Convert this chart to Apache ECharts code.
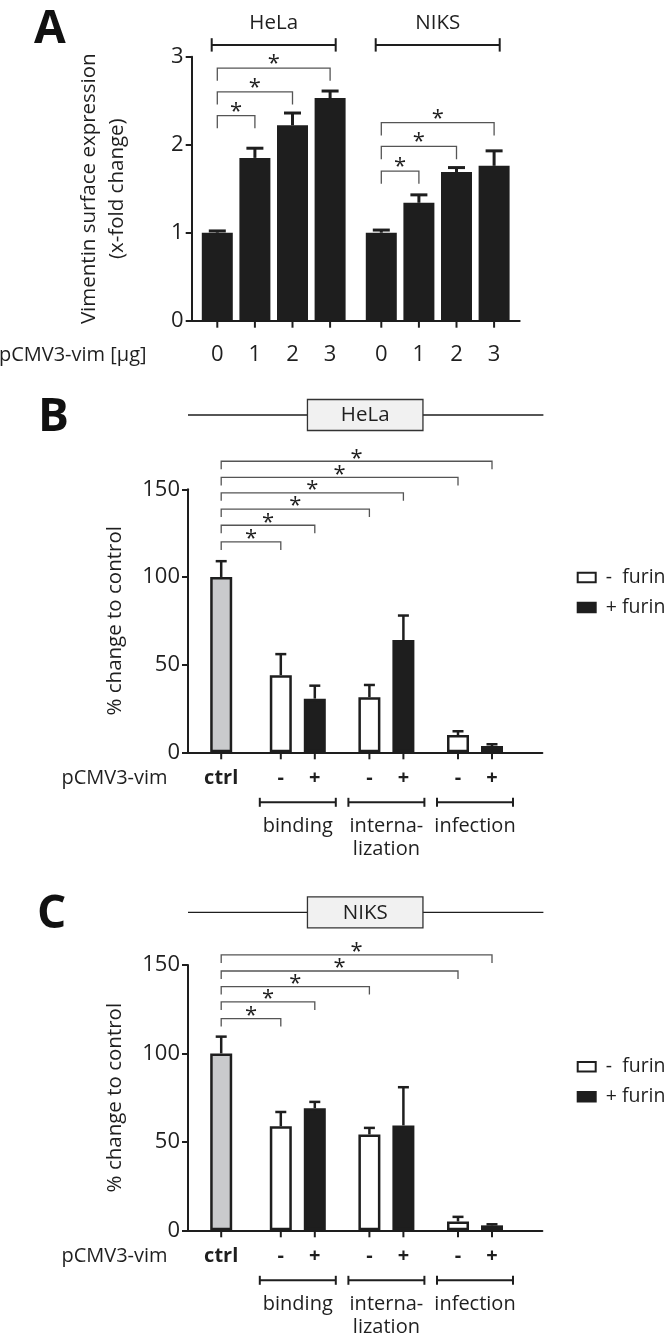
<!DOCTYPE html>
<html>
<head>
<meta charset="utf-8">
<title>Vimentin surface expression and HPV16 entry</title>
<script src="https://cdn.jsdelivr.net/npm/echarts@6/dist/echarts.min.js"></script>
<style>
  html, body { margin: 0; padding: 0; background: #ffffff; }
  #chart { width: 666px; height: 1339px; }
</style>
</head>
<body>
<div id="chart"></div>
<script>
// ---- panel A: vimentin surface expression (x-fold change)
const cellLines = ['HeLa', 'NIKS'];
const doseLabels = ['0', '1', '2', '3'];
const helaFold = [1.00, 1.85, 2.22, 2.53];
const helaFoldErr = [0.02, 0.11, 0.14, 0.08];
const niksFold = [1.00, 1.34, 1.69, 1.76];
const niksFoldErr = [0.03, 0.09, 0.05, 0.17];
// [cell line, dose, dose, bracket height]
const sigA = [
  [0, 0, 1, 2.33], [0, 0, 2, 2.60], [0, 0, 3, 2.87],
  [1, 0, 1, 1.70], [1, 0, 2, 1.98], [1, 0, 3, 2.25]
];

// ---- panels B (HeLa) and C (NIKS): % change to control
const ctrlLabel = 'ctrl';
const assays = ['binding', 'interna-\nlization', 'infection'];
const furinNames = ['-  furin', '+ furin'];
const signs = ['-', '+'];
const helaCtrl = [100], helaCtrlErr = [9];
const helaMinus = [44.0, 31.4, 9.8];
const helaMinusErr = [12.0, 7.0, 2.2];
const helaPlus = [30.6, 64.0, 3.6];
const helaPlusErr = [7.4, 14.0, 1.0];
const niksCtrl = [100], niksCtrlErr = [9.5];
const niksMinus = [58.8, 54.2, 5.0];
const niksMinusErr = [8.1, 3.7, 2.6];
const niksPlus = [69.0, 59.3, 2.8];
const niksPlusErr = [3.6, 21.6, 0.6];
// ctrl vs [assay, furin], bracket height
const sigB = [[0, 0, 120], [0, 1, 129.5], [1, 0, 138.7], [1, 1, 148], [2, 0, 156.8], [2, 1, 166]];
const sigC = [[0, 0, 119.7], [0, 1, 129.1], [1, 0, 137.8], [2, 0, 146.6], [2, 1, 155.7]];

const FONT = "'Open Sans', 'DejaVu Sans', sans-serif";
const INK = '#1e1e1e';
const TXT = '#1f1f1f';
const BRK = '#555555';

// layout
const gridA = { left: 191.7, top: 56.7, width: 328, height: 264 };
const BAR_A = 31, STEP_A = 37.6;
const BAR_BC = 22, STEP_BC = 34;
function layoutBC(top, height) {
  return { left: 188, top: top, width: 354.4, height: height, ctrlW: 66.4, mainL: 253.5, mainW: 265.8 };
}
const LB = layoutBC(489.3, 263);
const LC = layoutBC(965, 265.3);

const grid = [], xAxis = [], yAxis = [], series = [], graphic = [], legend = [];
const axisLineStyle = { color: INK, width: 2 };

function seg(x1, y1, x2, y2, w, color) {
  return { type: 'line', shape: { x1: x1, y1: y1, x2: x2, y2: y2 }, style: { stroke: color || INK, lineWidth: w } };
}
function label(str, x, y, size, weight) {
  return { type: 'text', style: { text: str, x: x, y: y, fill: TXT, fontSize: size, fontFamily: FONT,
    fontWeight: weight || 'normal', align: 'center', verticalAlign: 'middle' } };
}
function errorBar(cx, yTop, yCap, capHalf, w) {
  return [seg(cx, yTop, cx, yCap, w), seg(cx - capHalf, yCap, cx + capHalf, yCap, w)];
}
function bracket(x1, x2, y, leg, starUp) {
  return [
    { type: 'polyline', shape: { points: [[x1, y + leg], [x1, y], [x2, y], [x2, y + leg]] },
      style: { stroke: BRK, lineWidth: 1.3, fill: null } },
    label('*', (x1 + x2) / 2, y - starUp, 22)
  ];
}
function hiddenY(gi, max) {
  return { gridIndex: gi, type: 'value', min: 0, max: max, show: false };
}
function visibleY(gi, max, step, name, gap) {
  return {
    gridIndex: gi, type: 'value', min: 0, max: max, interval: step,
    name: name, nameLocation: 'middle', nameGap: gap, nameMoveOverlap: false,
    nameTextStyle: { fontSize: 20.5, fontFamily: FONT, color: TXT, lineHeight: 28 },
    axisLine: { show: true, lineStyle: axisLineStyle },
    axisTick: { show: true, length: 6, lineStyle: axisLineStyle },
    axisLabel: { fontSize: 22, fontFamily: FONT, color: TXT, margin: 8 },
    splitLine: { show: false }
  };
}

// ---------------- panel A ----------------
grid.push(Object.assign({ outerBoundsMode: 'none' }, gridA));
xAxis.push({ gridIndex: 0, type: 'category', data: cellLines,
  axisLine: { show: true, lineStyle: axisLineStyle }, axisTick: { show: false }, axisLabel: { show: false } });
yAxis.push(visibleY(0, 3, 1, 'Vimentin surface expression\n(x-fold change)', 61));

const gapA = ((STEP_A - BAR_A) / BAR_A * 100).toFixed(1) + '%';
doseLabels.forEach(function (d, j) {
  series.push({ type: 'bar', name: d + ' µg', xAxisIndex: 0, yAxisIndex: 0,
    data: [helaFold[j], niksFold[j]], barWidth: BAR_A, barGap: gapA, itemStyle: { color: INK } });
});

const foldByLine = [helaFold, niksFold], errByLine = [helaFoldErr, niksFoldErr];
series.push({
  type: 'custom', xAxisIndex: 0, yAxisIndex: 0, silent: true, clip: false, z: 3,
  encode: { x: 0, y: 2 },
  data: cellLines.flatMap(function (c, i) {
    return doseLabels.map(function (d, j) { return [i, j, foldByLine[i][j], errByLine[i][j]]; });
  }),
  renderItem: function (params, api) {
    const i = api.value(0), j = api.value(1), v = api.value(2), e = api.value(3);
    const base = api.coord([i, 0]);
    const cx = base[0] + (j - 1.5) * STEP_A;
    const yTop = api.coord([i, v])[1], yCap = api.coord([i, v + e])[1];
    return { type: 'group', children: errorBar(cx, yTop, yCap, 8.5, 3).concat([
      seg(cx, base[1], cx, base[1] + 7, 2),
      label(doseLabels[j], cx, base[1] + 34.3, 22)
    ]) };
  }
});
series.push({
  type: 'custom', xAxisIndex: 0, yAxisIndex: 0, silent: true, clip: false,
  encode: { x: 0, y: 3 }, data: sigA,
  renderItem: function (params, api) {
    const p = api.coord([api.value(0), api.value(3)]);
    const x1 = p[0] + (api.value(1) - 1.5) * STEP_A, x2 = p[0] + (api.value(2) - 1.5) * STEP_A;
    return { type: 'group', children: bracket(x1, x2, p[1], 12.7, 4.4) };
  }
});
// cell line headers over panel A
series.push({
  type: 'custom', xAxisIndex: 0, yAxisIndex: 0, silent: true, clip: false,
  encode: { x: 0, y: 1 }, data: cellLines.map(function (c, i) { return [i, 3]; }),
  renderItem: function (params, api) {
    const i = api.value(0), p = api.coord([i, api.value(1)]);
    const y = p[1] - 11.8, half = 62;
    return { type: 'group', children: [
      seg(p[0] - half, y, p[0] + half, y, 2),
      seg(p[0] - half, y - 6.7, p[0] - half, y + 6.7, 2),
      seg(p[0] + half, y - 6.7, p[0] + half, y + 6.7, 2),
      label(cellLines[i], p[0], y - 22, 20.5)
    ] };
  }
});
graphic.push({ type: 'text', x: 34, y: 30.3, style: { text: 'A', fontSize: 46, fontWeight: 'bold', fontFamily: FONT, fill: '#111', align: 'left', verticalAlign: 'middle' } });
graphic.push({ type: 'text', x: 146.6, y: gridA.top + gridA.height + 34.3,
  style: { text: 'pCMV3-vim [µg]', fontSize: 20, fontFamily: FONT, fill: TXT, align: 'right', verticalAlign: 'middle' } });

// ---------------- panels B and C ----------------
function addComparisonPanel(L, cfg) {
  const g = grid.length, xa = xAxis.length, ya = yAxis.length;
  const axisY = L.top + L.height;
  const ctrlX = L.left + L.ctrlW / 2;
  grid.push({ left: L.left, top: L.top, width: L.width, height: L.height, outerBoundsMode: 'none' });
  grid.push({ left: L.left, top: L.top, width: L.ctrlW, height: L.height, outerBoundsMode: 'none' });
  grid.push({ left: L.mainL, top: L.top, width: L.mainW, height: L.height, outerBoundsMode: 'none' });

  xAxis.push({ gridIndex: g, type: 'value', min: 0, max: 1,
    axisLine: { show: true, lineStyle: axisLineStyle }, axisTick: { show: false },
    axisLabel: { show: false }, splitLine: { show: false } });
  xAxis.push({ gridIndex: g + 1, type: 'category', data: [ctrlLabel],
    axisLine: { show: false }, axisTick: { show: false },
    axisLabel: { margin: 15.5, fontSize: 20, lineHeight: 20, fontWeight: 'bold', fontFamily: FONT, color: TXT } });
  xAxis.push({ gridIndex: g + 2, type: 'category', data: assays,
    axisLine: { show: false }, axisTick: { show: false },
    axisLabel: { interval: 0, margin: 62, fontSize: 20, lineHeight: 23, fontFamily: FONT, color: TXT } });
  yAxis.push(visibleY(g, 150, 50, '% change to control', 59));
  yAxis.push(hiddenY(g + 1, 150));
  yAxis.push(hiddenY(g + 2, 150));

  const barBorder = { borderColor: INK, borderWidth: 2.5 };
  const gapBC = ((STEP_BC - BAR_BC) / BAR_BC * 100).toFixed(1) + '%';
  series.push({ type: 'bar', name: ctrlLabel, xAxisIndex: xa + 1, yAxisIndex: ya + 1, data: cfg.ctrl,
    barWidth: BAR_BC, itemStyle: Object.assign({ color: '#c9cacc' }, barBorder) });
  series.push({ type: 'bar', name: furinNames[0], xAxisIndex: xa + 2, yAxisIndex: ya + 2, data: cfg.minus,
    barWidth: BAR_BC, barGap: gapBC, itemStyle: Object.assign({ color: '#ffffff' }, barBorder) });
  series.push({ type: 'bar', name: furinNames[1], xAxisIndex: xa + 2, yAxisIndex: ya + 2, data: cfg.plus,
    barWidth: BAR_BC, barGap: gapBC, itemStyle: Object.assign({ color: INK }, barBorder) });

  // ctrl error bar and tick
  series.push({
    type: 'custom', xAxisIndex: xa + 1, yAxisIndex: ya + 1, silent: true, clip: false, z: 3,
    encode: { x: 0, y: 1 }, data: [[0, cfg.ctrl[0], cfg.ctrlErr[0]]],
    renderItem: function (params, api) {
      const base = api.coord([0, 0]), v = api.value(1), e = api.value(2);
      const yTop = api.coord([0, v])[1], yCap = api.coord([0, v + e])[1];
      return { type: 'group', children: errorBar(base[0], yTop, yCap, 5.5, 2.5).concat([
        seg(base[0], base[1], base[0], base[1] + 7, 2)
      ]) };
    }
  });
  // furin bars: error bars, ticks, -/+ labels
  const means = [cfg.minus, cfg.plus], errs = [cfg.minusErr, cfg.plusErr];
  series.push({
    type: 'custom', xAxisIndex: xa + 2, yAxisIndex: ya + 2, silent: true, clip: false, z: 3,
    encode: { x: 0, y: 2 },
    data: assays.flatMap(function (a, i) {
      return signs.map(function (s, f) { return [i, f, means[f][i], errs[f][i]]; });
    }),
    renderItem: function (params, api) {
      const i = api.value(0), f = api.value(1), v = api.value(2), e = api.value(3);
      const base = api.coord([i, 0]);
      const cx = base[0] + (f - 0.5) * STEP_BC;
      const yTop = api.coord([i, v])[1], yCap = api.coord([i, v + e])[1];
      return { type: 'group', children: errorBar(cx, yTop, yCap, 5.5, 2.5).concat([
        seg(cx, base[1], cx, base[1] + 7, 2),
        label(signs[f], cx, base[1] + 25.5, 20, 'bold')
      ]) };
    }
  });
  // assay group lines
  series.push({
    type: 'custom', xAxisIndex: xa + 2, yAxisIndex: ya + 2, silent: true, clip: false,
    encode: { x: 0, y: 1 }, data: assays.map(function (a, i) { return [i, 0]; }),
    renderItem: function (params, api) {
      const p = api.coord([api.value(0), 0]);
      const y = p[1] + 50, half = 38;
      return { type: 'group', children: [
        seg(p[0] - half, y, p[0] + half, y, 2),
        seg(p[0] - half, y - 4.5, p[0] - half, y + 4.5, 2),
        seg(p[0] + half, y - 4.5, p[0] + half, y + 4.5, 2)
      ] };
    }
  });
  // significance brackets from ctrl
  series.push({
    type: 'custom', xAxisIndex: xa + 2, yAxisIndex: ya + 2, silent: true, clip: false,
    encode: { x: 0, y: 2 }, data: cfg.sig,
    renderItem: function (params, api) {
      const p = api.coord([api.value(0), api.value(2)]);
      const x2 = p[0] + (api.value(1) - 0.5) * STEP_BC;
      return { type: 'group', children: bracket(ctrlX, x2, p[1], 8, 2.9) };
    }
  });

  // header with cell line box
  const cx = L.left + L.width / 2, hy = L.top - cfg.headerGap;
  graphic.push({ type: 'line', z: 10, shape: { x1: L.left, y1: hy, x2: L.left + L.width + 1, y2: hy },
    style: { stroke: INK, lineWidth: 1.3 } });
  graphic.push({ type: 'rect', z: 11, shape: { x: cx - 57.75, y: hy - 15.5, width: 115.5, height: 31 },
    style: { fill: '#f1f1f1', stroke: '#333333', lineWidth: 1.3 } });
  graphic.push({ type: 'text', z: 12, x: cx, y: hy + 0.5,
    style: { text: cfg.cell, fontSize: 20.5, fontFamily: FONT, fill: TXT, align: 'center', verticalAlign: 'middle' } });
  graphic.push({ type: 'text', x: cfg.letterX, y: cfg.letterY,
    style: { text: cfg.letter, fontSize: 46, fontWeight: 'bold', fontFamily: FONT, fill: '#111', align: 'left', verticalAlign: 'middle' } });
  graphic.push({ type: 'text', x: 167.6, y: axisY + 25.5,
    style: { text: 'pCMV3-vim', fontSize: 20, fontFamily: FONT, fill: TXT, align: 'right', verticalAlign: 'middle' } });

  legend.push({
    orient: 'vertical', left: 576.7, top: cfg.legendTop, padding: 0,
    itemWidth: 18, itemHeight: 9.5, itemGap: 10, selectedMode: false,
    formatter: function (n) { return ' ' + n; },
    textStyle: { fontSize: 19.5, fontFamily: FONT, color: TXT },
    data: [
      { name: furinNames[0], icon: 'rect', itemStyle: { color: '#ffffff', borderColor: INK, borderWidth: 2 } },
      { name: furinNames[1], icon: 'rect', itemStyle: { color: INK, borderColor: INK, borderWidth: 2 } }
    ]
  });
}

addComparisonPanel(LB, {
  cell: 'HeLa', letter: 'B', letterX: 38, letterY: 417.6, headerGap: 74.3, legendTop: 567.5,
  ctrl: helaCtrl, ctrlErr: helaCtrlErr, minus: helaMinus, minusErr: helaMinusErr,
  plus: helaPlus, plusErr: helaPlusErr, sig: sigB
});
addComparisonPanel(LC, {
  cell: 'NIKS', letter: 'C', letterX: 37, letterY: 914.4, headerGap: 52.7, legendTop: 1056.7,
  ctrl: niksCtrl, ctrlErr: niksCtrlErr, minus: niksMinus, minusErr: niksMinusErr,
  plus: niksPlus, plusErr: niksPlusErr, sig: sigC
});

const chart = echarts.init(document.getElementById('chart'), null, { renderer: 'canvas' });
chart.setOption({
  animation: false,
  backgroundColor: '#ffffff',
  textStyle: { fontFamily: FONT },
  grid: grid,
  xAxis: xAxis,
  yAxis: yAxis,
  legend: legend,
  graphic: graphic,
  series: series
});
</script>
</body>
</html>
